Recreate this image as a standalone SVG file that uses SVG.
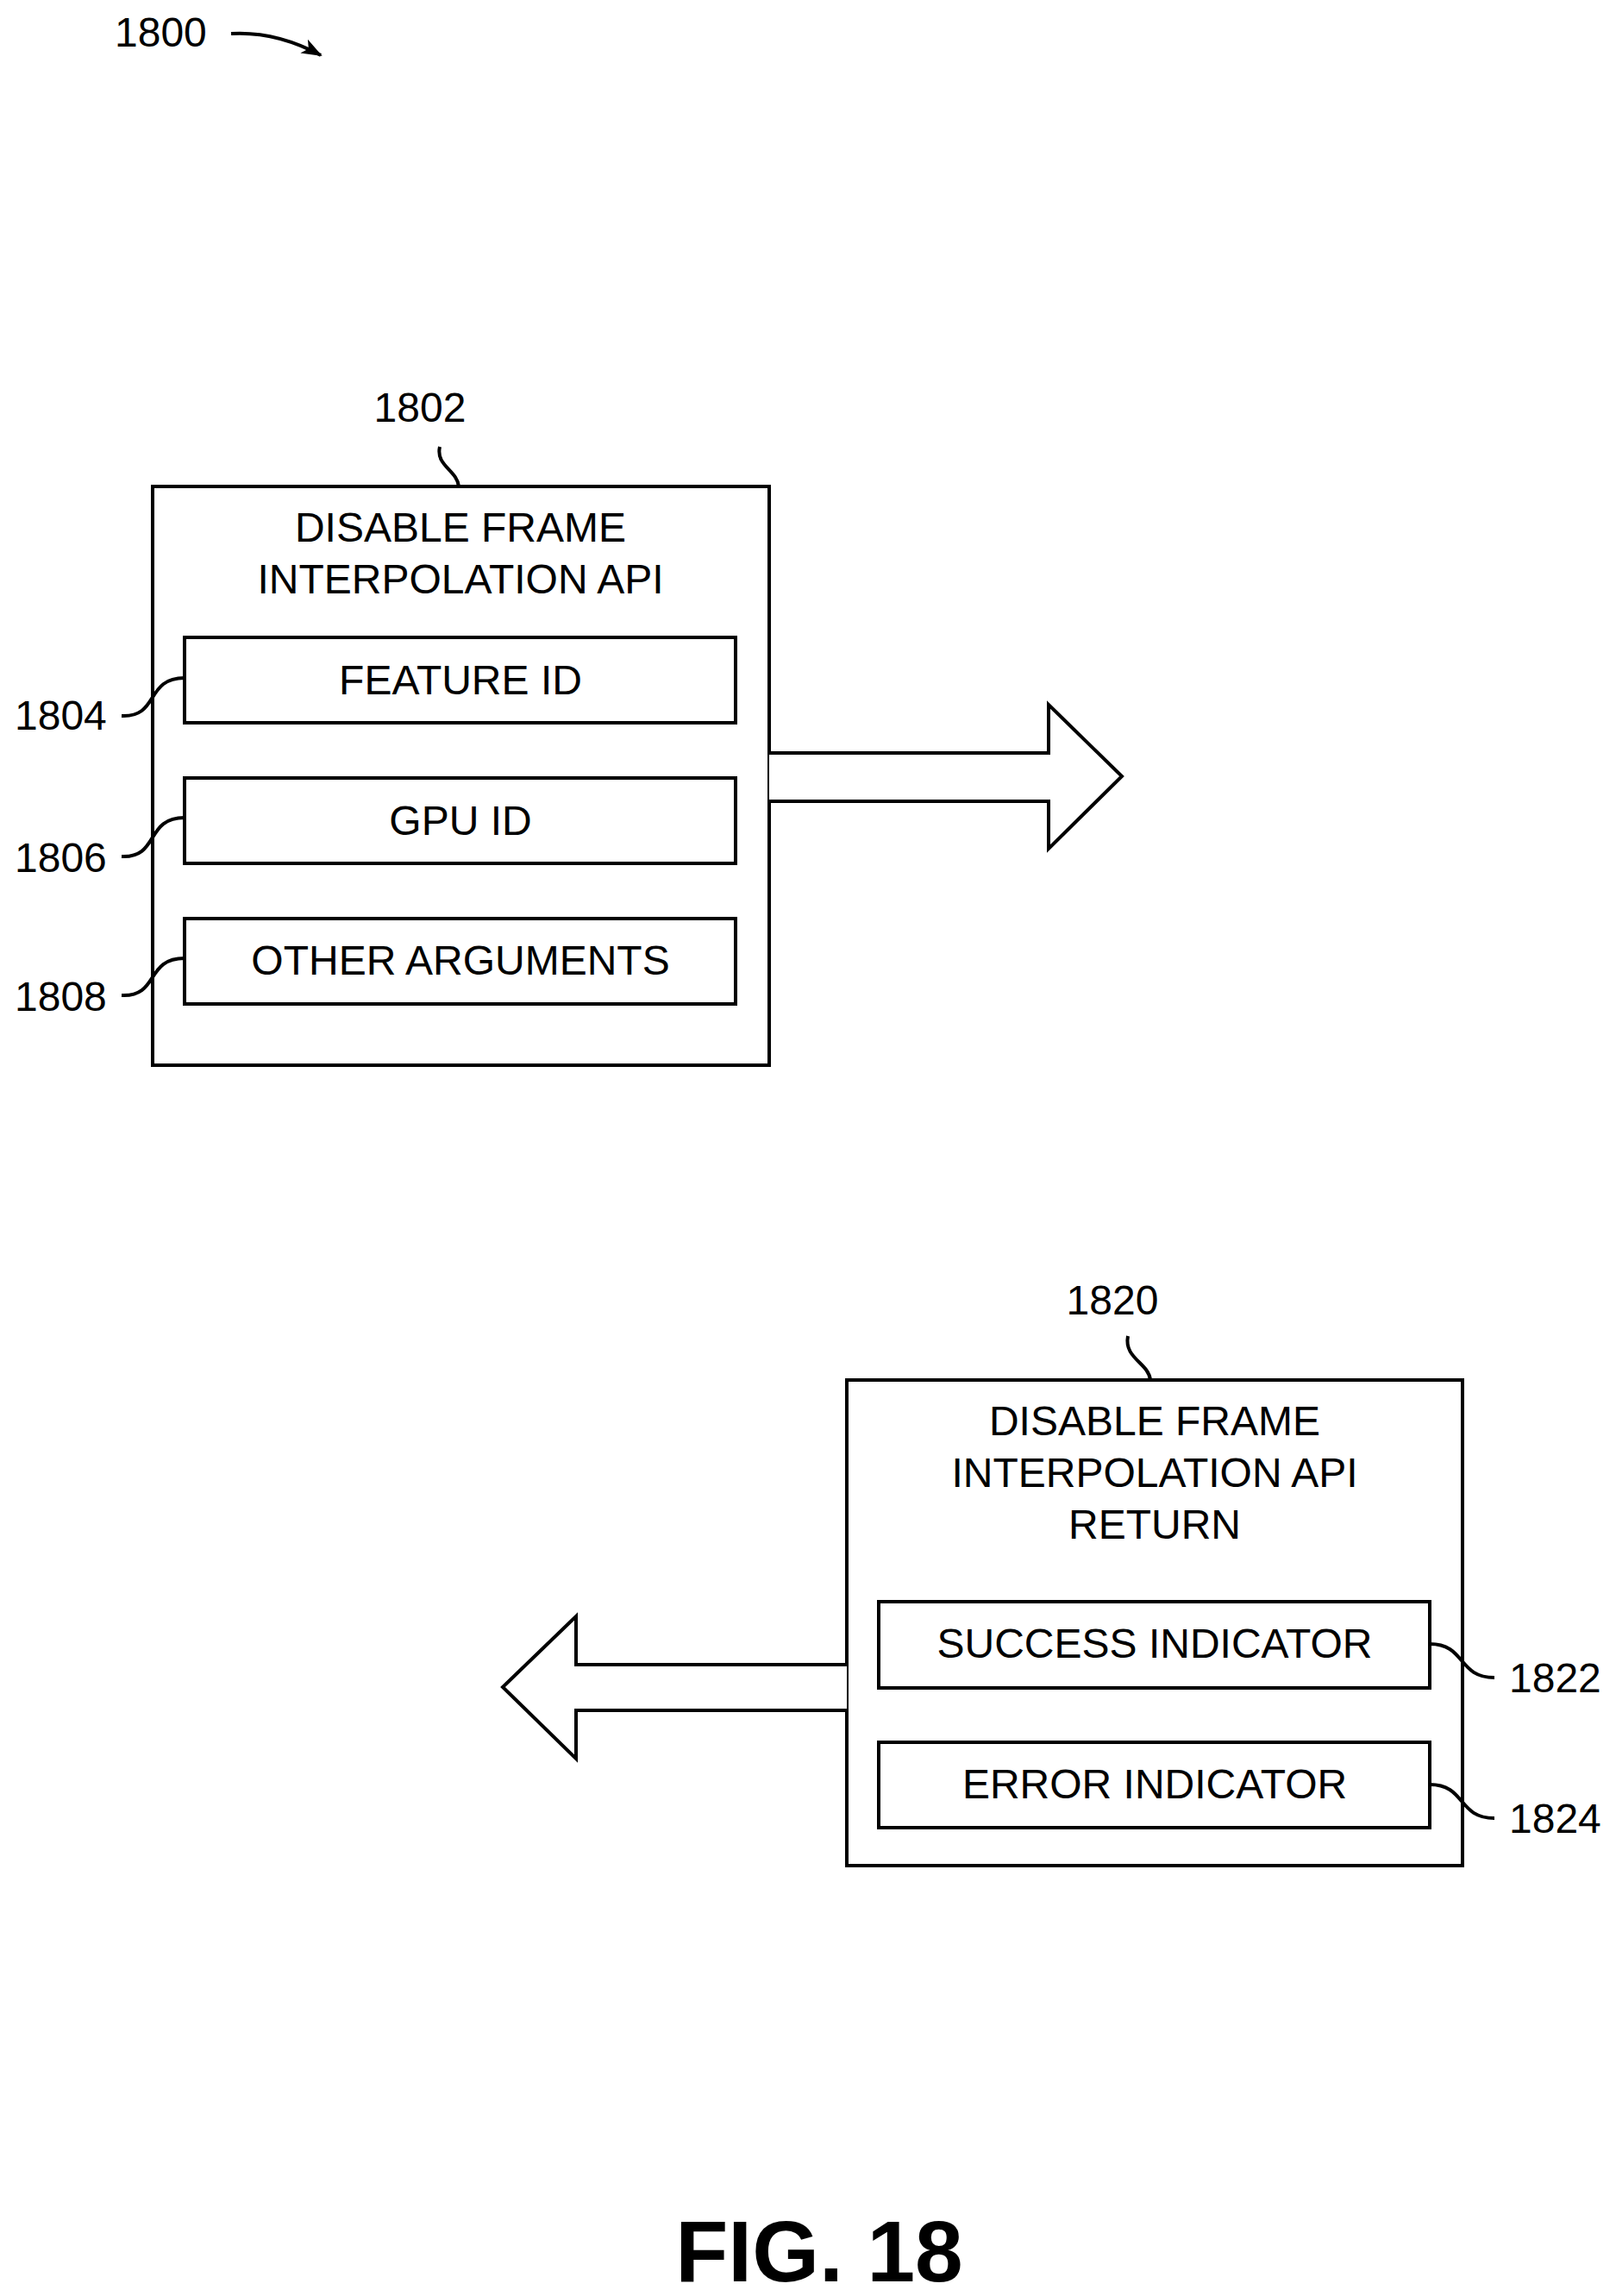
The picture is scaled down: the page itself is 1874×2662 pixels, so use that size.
<svg xmlns="http://www.w3.org/2000/svg" width="1874" height="2662" viewBox="0 0 1874 2662">
<style>
.b{fill:#fff;stroke:#000;stroke-width:4}
.l{fill:none;stroke:#000;stroke-width:4}
text{font-family:"Liberation Sans",Arial,sans-serif;font-size:48px;fill:#000}
.c{text-anchor:middle}
</style>
<defs><marker id="ah" markerWidth="10" markerHeight="10" refX="9" refY="5" orient="auto" markerUnits="userSpaceOnUse" viewBox="0 0 10 10"><path d="M0,0 L10,5 L0,10 z" transform="scale(1)"/></marker>
<marker id="a2" markerWidth="24" markerHeight="18" refX="22" refY="9" orient="auto" markerUnits="userSpaceOnUse"><path d="M0,0 L24,9 L0,18 L6,9 z"/></marker></defs>
<rect width="1874" height="2662" fill="#fff"/>
<g id="label1800"><text x="133" y="54">1800</text></g>
<g id="n1802">
<rect class="b" x="177" y="564" width="715" height="671"/>
<text class="c" x="534" y="628">DISABLE FRAME</text>
<text class="c" x="534" y="688">INTERPOLATION API</text>
<text class="c" x="487" y="489">1802</text>
</g>
<g id="n1804"><rect class="b" x="214" y="739" width="639" height="99"/><text class="c" x="534" y="805">FEATURE ID</text><text x="17" y="846">1804</text></g>
<g id="n1806"><rect class="b" x="214" y="902" width="639" height="99"/><text class="c" x="534" y="968">GPU ID</text><text x="17" y="1011">1806</text></g>
<g id="n1808"><rect class="b" x="214" y="1065" width="639" height="99"/><text class="c" x="534" y="1130">OTHER ARGUMENTS</text><text x="17" y="1172">1808</text></g>
<g id="n1820">
<rect class="b" x="982" y="1600" width="714" height="563"/>
<text class="c" x="1339" y="1664">DISABLE FRAME</text>
<text class="c" x="1339" y="1724">INTERPOLATION API</text>
<text class="c" x="1339" y="1784">RETURN</text>
<text class="c" x="1290" y="1524">1820</text>
</g>
<g id="n1822"><rect class="b" x="1019" y="1857" width="639" height="100"/><text class="c" x="1339" y="1922">SUCCESS INDICATOR</text><text x="1750" y="1962">1822</text></g>
<g id="n1824"><rect class="b" x="1019" y="2020" width="639" height="99"/><text class="c" x="1339" y="2085">ERROR INDICATOR</text><text x="1750" y="2125">1824</text></g>
<g id="connectors">
<path class="l" d="M268,39 Q320,36 372,64" marker-end="url(#a2)"/>
<path class="l" d="M510,518 C505,540 530,545 532,564"/>
<path class="l" d="M141,830 C185,832 168,786 214,786"/>
<path class="l" d="M141,993 C185,995 168,948 214,948"/>
<path class="l" d="M141,1154 C185,1156 168,1111 214,1111"/>
<path class="l" d="M1308,1549 C1303,1575 1332,1580 1334,1600"/>
<path class="l" d="M1658,1906 C1700,1906 1690,1945 1733,1945"/>
<path class="l" d="M1658,2069 C1700,2069 1690,2108 1733,2108"/>
<path class="b" d="M892,873 L1216,873 L1216,817 L1301,900 L1216,984 L1216,929 L892,929" stroke-width="5"/>
<path class="b" d="M982,1930 L668,1930 L668,1874 L583,1956 L668,2039 L668,1983 L982,1983" stroke-width="5"/>
</g>
<text class="c" x="950" y="2645" style="font-size:100px;font-weight:bold">FIG. 18</text>
</svg>
